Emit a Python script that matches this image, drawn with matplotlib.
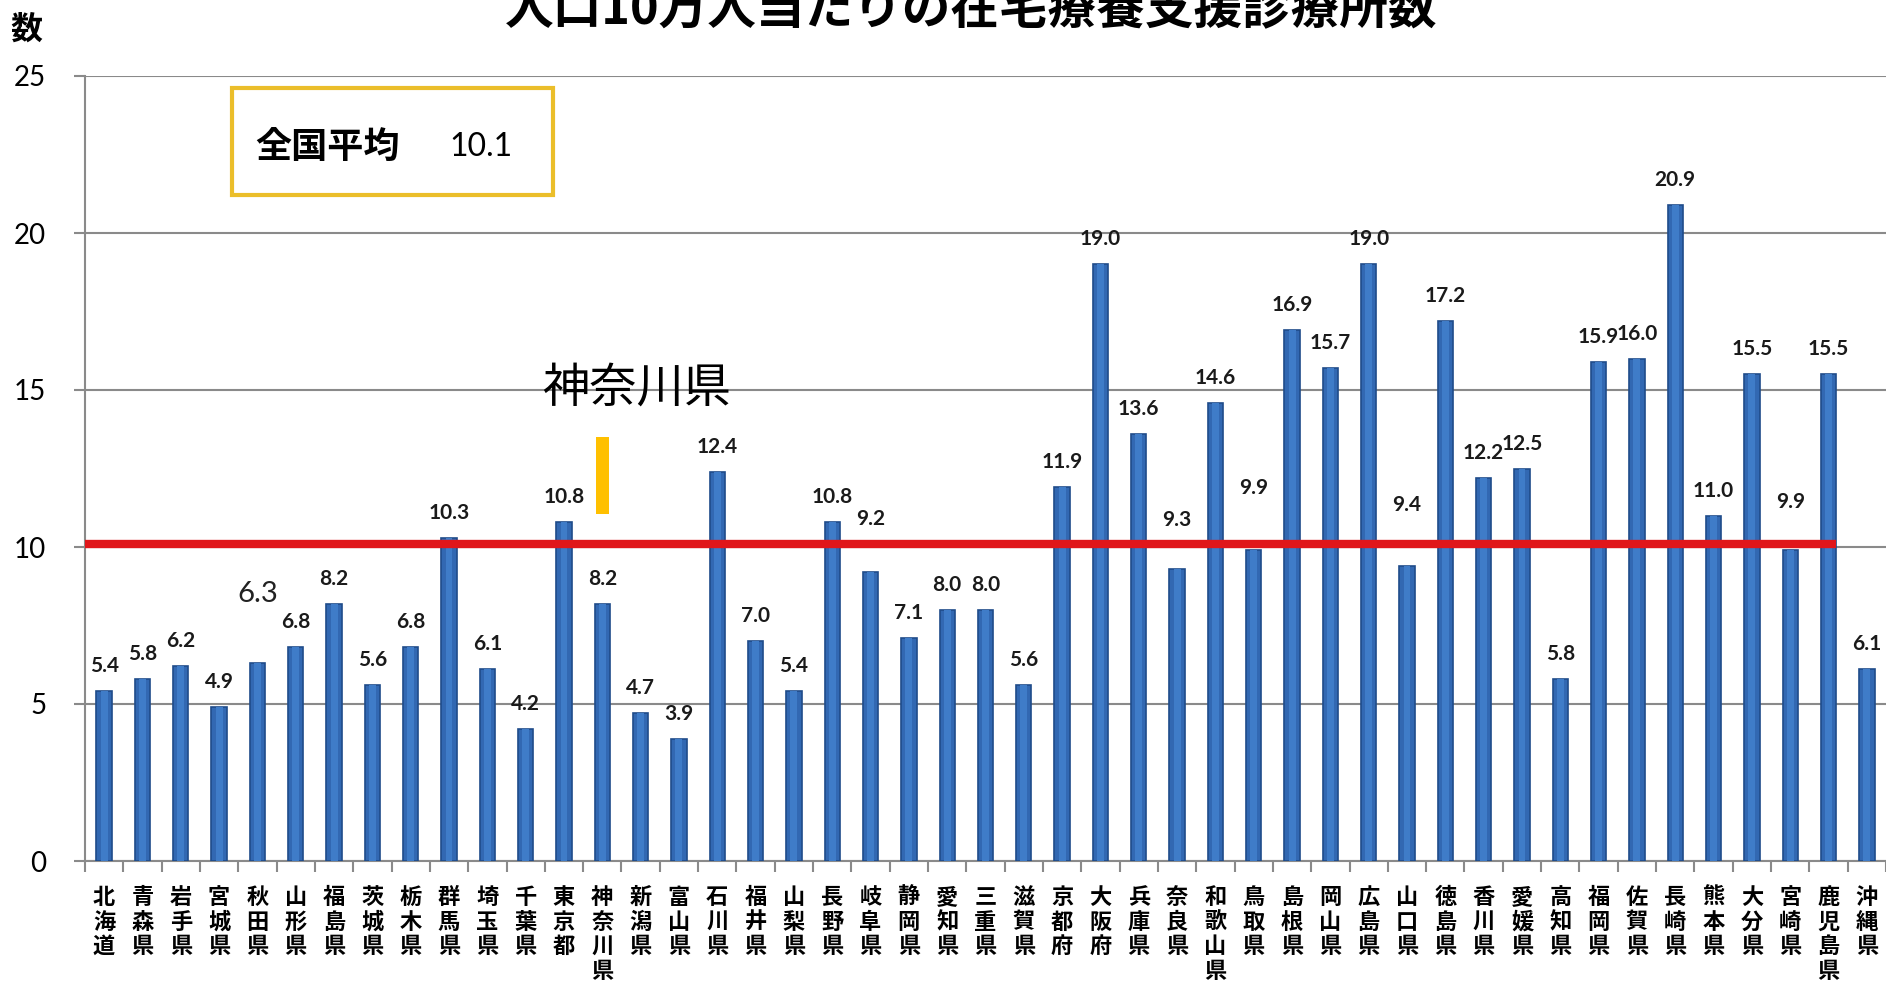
import matplotlib
matplotlib.use("Agg")
import matplotlib.pyplot as plt
from matplotlib.patches import Rectangle
import numpy as np

plt.rcParams['font.family'] = ['Noto Sans CJK JP', 'DejaVu Sans']

# ---- data ----
prefectures = ["北海道", "青森県", "岩手県", "宮城県", "秋田県", "山形県", "福島県",
               "茨城県", "栃木県", "群馬県", "埼玉県", "千葉県", "東京都", "神奈川県",
               "新潟県", "富山県", "石川県", "福井県", "山梨県", "長野県", "岐阜県",
               "静岡県", "愛知県", "三重県", "滋賀県", "京都府", "大阪府", "兵庫県",
               "奈良県", "和歌山県", "鳥取県", "島根県", "岡山県", "広島県", "山口県",
               "徳島県", "香川県", "愛媛県", "高知県", "福岡県", "佐賀県", "長崎県",
               "熊本県", "大分県", "宮崎県", "鹿児島県", "沖縄県"]
values = [5.4, 5.8, 6.2, 4.9, 6.3, 6.8, 8.2,
          5.6, 6.8, 10.3, 6.1, 4.2, 10.8, 8.2,
          4.7, 3.9, 12.4, 7.0, 5.4, 10.8, 9.2,
          7.1, 8.0, 8.0, 5.6, 11.9, 19.0, 13.6,
          9.3, 14.6, 9.9, 16.9, 15.7, 19.0, 9.4,
          17.2, 12.2, 12.5, 5.8, 15.9, 16.0, 20.9,
          11.0, 15.5, 9.9, 15.5, 6.1]
national_avg = 10.1
title = "人口10万人当たりの在宅療養支援診療所数"
ylabel = "数"
highlight = "神奈川県"
yticks = [0, 5, 10, 15, 20, 25]

# ---- styling helpers ----
label_lift = {"岐阜県": 38, "奈良県": 35, "鳥取県": 45, "山口県": 44, "宮崎県": 35}  # points
special_label = "秋田県"

fig = plt.figure(figsize=(18.86, 9.86), dpi=100)
ax = fig.add_axes([85/1886, 125/986, 1 - 85/1886, (861-76)/986])

x = np.arange(len(prefectures))
bw = 0.40
ax.bar(x, values, width=bw, color='#3268B2', edgecolor='#1F4C8A', linewidth=1.2, zorder=3)
ax.bar(x, values, width=bw*0.45, color='#3F7CC8', linewidth=0, zorder=3.1)

ax.set_xlim(-0.5, len(prefectures) - 0.5)
ax.set_ylim(0, 25)
ax.set_yticks(yticks)
ax.set_yticklabels([str(t) for t in yticks], family=['Lato'], fontsize=20)
ax.yaxis.grid(True, color='#8a8a8a', linewidth=1.5, zorder=0)
ax.set_axisbelow(True)

ax.set_xticks(x)
ax.set_xticklabels(["\n".join(p) for p in prefectures], fontsize=16, fontweight='bold',
                   linespacing=1.09, va='top')
ax.tick_params(axis='x', length=0, pad=18)
ax.set_xticks(np.arange(-0.5, len(prefectures), 1), minor=True)
ax.tick_params(axis='x', which='minor', length=8, width=1.5, color='#8a8a8a')
ax.tick_params(axis='y', length=8, width=1.5, color='#8a8a8a', pad=20)

for s in ['top', 'right']:
    ax.spines[s].set_visible(False)
for s in ['left', 'bottom']:
    ax.spines[s].set_color('#8a8a8a')
    ax.spines[s].set_linewidth(1.5)

# value labels
for xi, (p, v) in enumerate(zip(prefectures, values)):
    if p == special_label:
        ax.annotate(f"{v:.1f}", (xi, v), xytext=(0, 50), textcoords='offset points',
                    ha='center', va='center', family=['Lato'], fontsize=21, color='#222222', zorder=5)
        continue
    lift = label_lift.get(p, 18)
    ax.annotate(f"{v:.1f}", (xi, v), xytext=(0, lift), textcoords='offset points',
                ha='center', va='center', family=['Lato'], fontweight='bold', fontsize=15,
                color='#1a1a1a', zorder=5)

# national average line
ax.hlines(national_avg, -0.5, len(prefectures) - 2 + bw/2, color='#E0161A', linewidth=6, zorder=4)

# highlight marker for Kanagawa
hi = prefectures.index(highlight)
ax.bar(hi, 13.5 - 11.05, bottom=11.05, width=0.34, color='#FFC000', zorder=4)
ax.text(hi + 0.9, 15.06, highlight, ha='center', va='center', fontsize=34, color='black', zorder=5)

# legend-like box
fig.patches.append(Rectangle((232/1886, 1 - 195/986), 321/1886, 107/986, transform=fig.transFigure,
                             fill=False, edgecolor='#EBBE2A', linewidth=3))
fig.text(328/1886, 1 - 147/986, "全国平均", ha='center', va='center', fontsize=26, fontweight='bold')
fig.text(481/1886, 1 - 147/986, f"{national_avg}", ha='center', va='center', family=['Lato'], fontsize=23)

# title and y label
fig.text(971/1886, 1 - 24/986, title, ha='center', va='baseline', fontsize=35, fontweight='bold')
fig.text(26/1886, 1 - 30/986, ylabel, ha='center', va='center', fontsize=23, fontweight='bold')

fig.savefig("out.png", dpi=100, facecolor='white')
